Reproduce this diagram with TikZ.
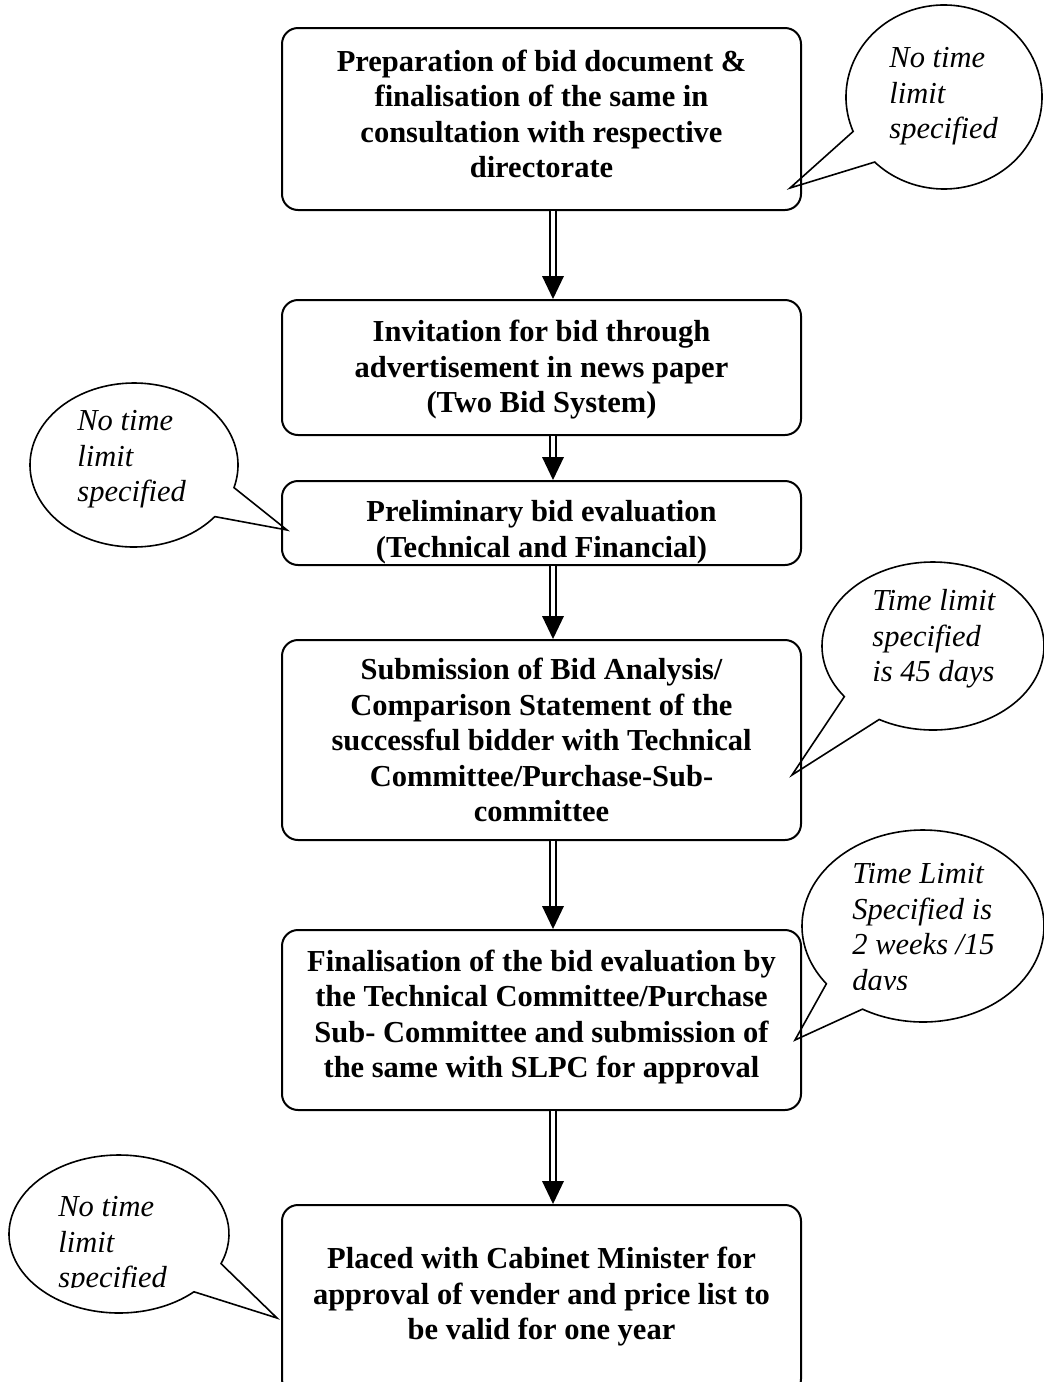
\documentclass[tikz,border=0pt]{standalone}
\usepackage{fontspec}
\setmainfont{Liberation Serif}
\usetikzlibrary{calc}
\begin{document}
\begin{tikzpicture}[x=0.5pt,y=-0.5pt,
  box/.style={draw, line width=1pt, rounded corners=8pt, minimum width=259.5pt, inner sep=0pt},
  btext/.style={align=center, font=\bfseries\fontsize{15.25pt}{17.75pt}\selectfont, inner sep=0pt},
  ctext/.style={align=left, anchor=west, font=\itshape\fontsize{15.25pt}{17.75pt}\selectfont, inner sep=0pt},
  callout/.style={draw, line width=0.8pt, line join=miter},
  dblline/.style={draw, line width=1.1pt, double distance=1.6pt},
  headfill/.style={fill=black}
]
\useasboundingbox (0,0) rectangle (1044,1382);

% boxes
\node[box, minimum height=91pt]   (b1) at (541.5,119)   {};
\node[box, minimum height=67.5pt] (b2) at (541.5,367.5) {};
\node[box, minimum height=42pt]   (b3) at (541.5,523)   {};
\node[box, minimum height=100pt]  (b4) at (541.5,740)   {};
\node[box, minimum height=90pt]   (b5) at (541.5,1020)  {};
\node[box, minimum height=95pt]   (b6) at (541.5,1300)  {};

% box texts
\node[btext] (t1) at (541.5,114) {Preparation of bid document \&\\finalisation of the same in\\consultation with respective\\directorate};
\node[btext] (t2) at (541.5,370) {Invitation for bid through\\advertisement in news paper\\(Two Bid System)};
\node[btext] (t3) at (541.5,532) {Preliminary bid evaluation\\(Technical and Financial)};
\node[btext] (t4) at (541.5,740) {Submission of Bid Analysis/\\Comparison Statement of the\\successful bidder with Technical\\Committee/Purchase-Sub-\\committee};
\node[btext] (t5) at (541.5,1017) {Finalisation of the bid evaluation by\\the Technical Committee/Purchase\\Sub- Committee and submission of\\the same with SLPC for approval};
\node[btext] (t6) at (541.5,1297) {Placed with Cabinet Minister for\\approval of vender and price list to\\be valid for one year};

% arrows
\coordinate (ax) at (553,0);
\foreach \a/\b in {b1/b2,b2/b3,b3/b4,b4/b5,b5/b6}{
  \draw[dblline] (\a.south -| ax) -- ($(\b.north -| ax)+(0,11pt)$);
  \fill[headfill] (\b.north -| ax) -- ++(-5.5pt,11.5pt) -- ++(11pt,0pt) -- cycle;
}

% callouts
\coordinate (tipA) at (790,188);
\draw[callout] (tipA) -- ($(944,97)+(-158:49pt and 46pt)$) arc[start angle=-158, end angle=-495, x radius=49pt, y radius=46pt] -- cycle;
\node[ctext] (cA) at (889,96.5) {No time\\limit\\specified};

\coordinate (tipB) at (287,530);
\draw[callout] (tipB) -- ($(134,465)+(-39:52pt and 41pt)$) arc[start angle=-39, end angle=-376, x radius=52pt, y radius=41pt] -- cycle;
\node[ctext] (cB) at (77,459.5) {No time\\limit\\specified};

\coordinate (tipC) at (792,775);
\draw[callout] (tipC) -- ($(933,646)+(-143:55.5pt and 42pt)$) arc[start angle=-143, end angle=-479, x radius=55.5pt, y radius=42pt] -- cycle;
\node[ctext] (cC) at (872,639) {Time limit\\specified\\is 45 days};

\coordinate (tipD) at (795,1040);
\draw[callout] (tipD) -- ($(923,926)+(-143:60.5pt and 48pt)$) arc[start angle=-143, end angle=-480, x radius=60.5pt, y radius=48pt] -- cycle;
\begin{scope}
  \clip (800,830) rectangle (1044,989);
  \node[ctext] (cD) at (852,930) {Time Limit\\Specified is\\2 weeks /15\\days};
\end{scope}

\coordinate (tipE) at (277,1318);
\draw[callout] (tipE) -- ($(119,1234)+(-47:55pt and 39.5pt)$) arc[start angle=-47, end angle=-382, x radius=55pt, y radius=39.5pt] -- cycle;
\begin{scope}
  \clip (0,1150) rectangle (280,1287);
  \node[ctext] (cE) at (58,1245.5) {No time\\limit\\specified};
\end{scope}
\end{tikzpicture}
\end{document}
